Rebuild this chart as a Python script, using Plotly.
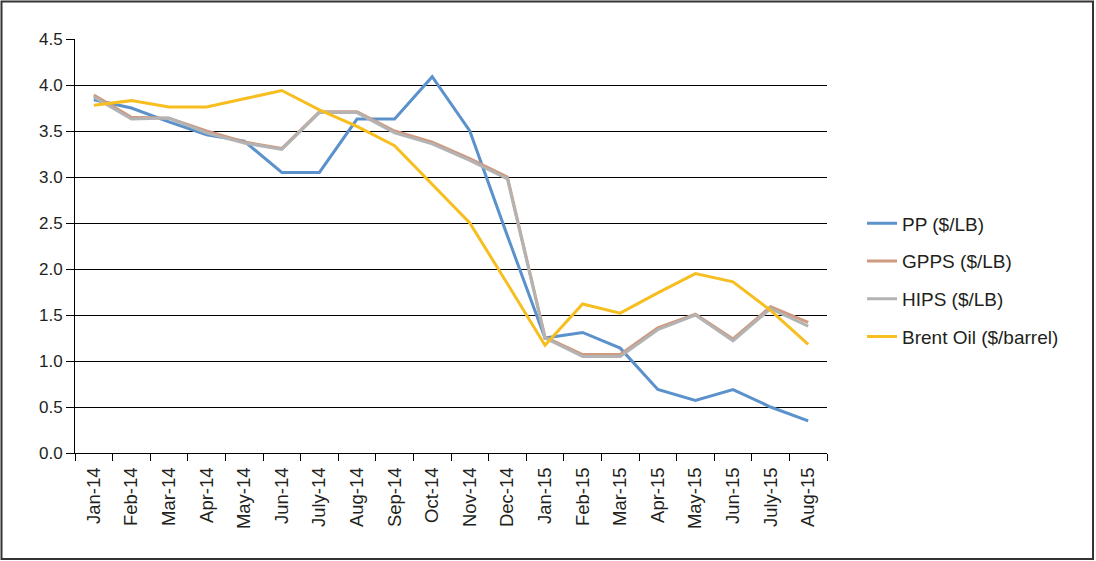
import plotly.graph_objects as go

months = ["Jan-14", "Feb-14", "Mar-14", "Apr-14", "May-14", "Jun-14", "July-14", "Aug-14",
          "Sep-14", "Oct-14", "Nov-14", "Dec-14", "Jan-15", "Feb-15", "Mar-15", "Apr-15",
          "May-15", "Jun-15", "July-15", "Aug-15"]

pp = [3.84, 3.75, 3.60, 3.46, 3.39, 3.05, 3.05, 3.63, 3.63, 4.09, 3.50, 2.36,
      1.25, 1.31, 1.14, 0.69, 0.57, 0.69, 0.50, 0.35]
gpps = [3.89, 3.65, 3.64, 3.50, 3.38, 3.31, 3.71, 3.71, 3.50, 3.38, 3.20, 3.00,
        1.26, 1.07, 1.07, 1.36, 1.51, 1.24, 1.59, 1.42]
hips = [3.87, 3.63, 3.64, 3.48, 3.37, 3.30, 3.70, 3.70, 3.48, 3.36, 3.18, 2.98,
        1.25, 1.05, 1.05, 1.34, 1.50, 1.22, 1.57, 1.38]
brent = [3.78, 3.83, 3.76, 3.76, 3.85, 3.94, 3.73, 3.55, 3.34, 2.92, 2.50, 1.84,
         1.17, 1.62, 1.52, 1.74, 1.95, 1.86, 1.55, 1.18]

y_ticks = [0.0, 0.5, 1.0, 1.5, 2.0, 2.5, 3.0, 3.5, 4.0, 4.5]

series = [
    ("PP ($/LB)", pp, "#5B92CB"),
    ("GPPS ($/LB)", gpps, "#CF9A80"),
    ("HIPS ($/LB)", hips, "#B3B3B3"),
    ("Brent Oil ($/barrel)", brent, "#F7BE1F"),
]

fig = go.Figure()
for i, (name, vals, col) in enumerate(series):
    fig.add_trace(go.Scatter(x=months, y=vals, name=name, mode="lines",
                             line=dict(color=col, width=3), legendgroup=str(i)))

W, H = 1096, 561
L, R, T, B = 75, 827, 39, 453
fig.update_layout(
    width=W, height=H,
    margin=dict(l=L, r=W - R, t=T, b=H - B),
    paper_bgcolor="white", plot_bgcolor="white",
    font=dict(family="Liberation Sans, Arial, sans-serif", size=17, color="#231F20"),
    showlegend=True,
    legend=dict(x=(862 - L) / (R - L), xanchor="left", y=(B - 280) / (B - T), yanchor="middle",
                font=dict(size=19), tracegroupgap=10, traceorder="grouped",
                bgcolor="rgba(0,0,0,0)"),
    xaxis=dict(type="category", showgrid=False, showline=True, linecolor="black", linewidth=1,
               ticks="outside", tickson="boundaries", ticklen=7, tickcolor="black",
               tickangle=-90, tickfont=dict(size=18.5), ticklabelstandoff=6,
               range=[-0.5, 19.5]),
    yaxis=dict(range=[0, 4.5], tickvals=y_ticks, ticktext=[f"{v:.1f}" for v in y_ticks],
               showgrid=True, gridcolor="black", gridwidth=1, showline=True, linecolor="black",
               linewidth=1, ticks="outside", ticklen=8, tickcolor="black",
               tickfont=dict(size=17), zeroline=False),
)

# outer frame around the whole figure
fig.add_shape(type="rect", xref="paper", yref="paper",
              x0=(1.5 - L) / (R - L), x1=(1093 - L) / (R - L),
              y0=(B - 559) / (B - T), y1=(B - 1.5) / (B - T),
              line=dict(color="#333333", width=2), fillcolor="rgba(0,0,0,0)", layer="below")

fig.write_html("out.html", config={"displayModeBar": False},
               post_script="document.body.style.margin='0';document.body.style.overflow='hidden';window.dispatchEvent(new Event('resize'));")
